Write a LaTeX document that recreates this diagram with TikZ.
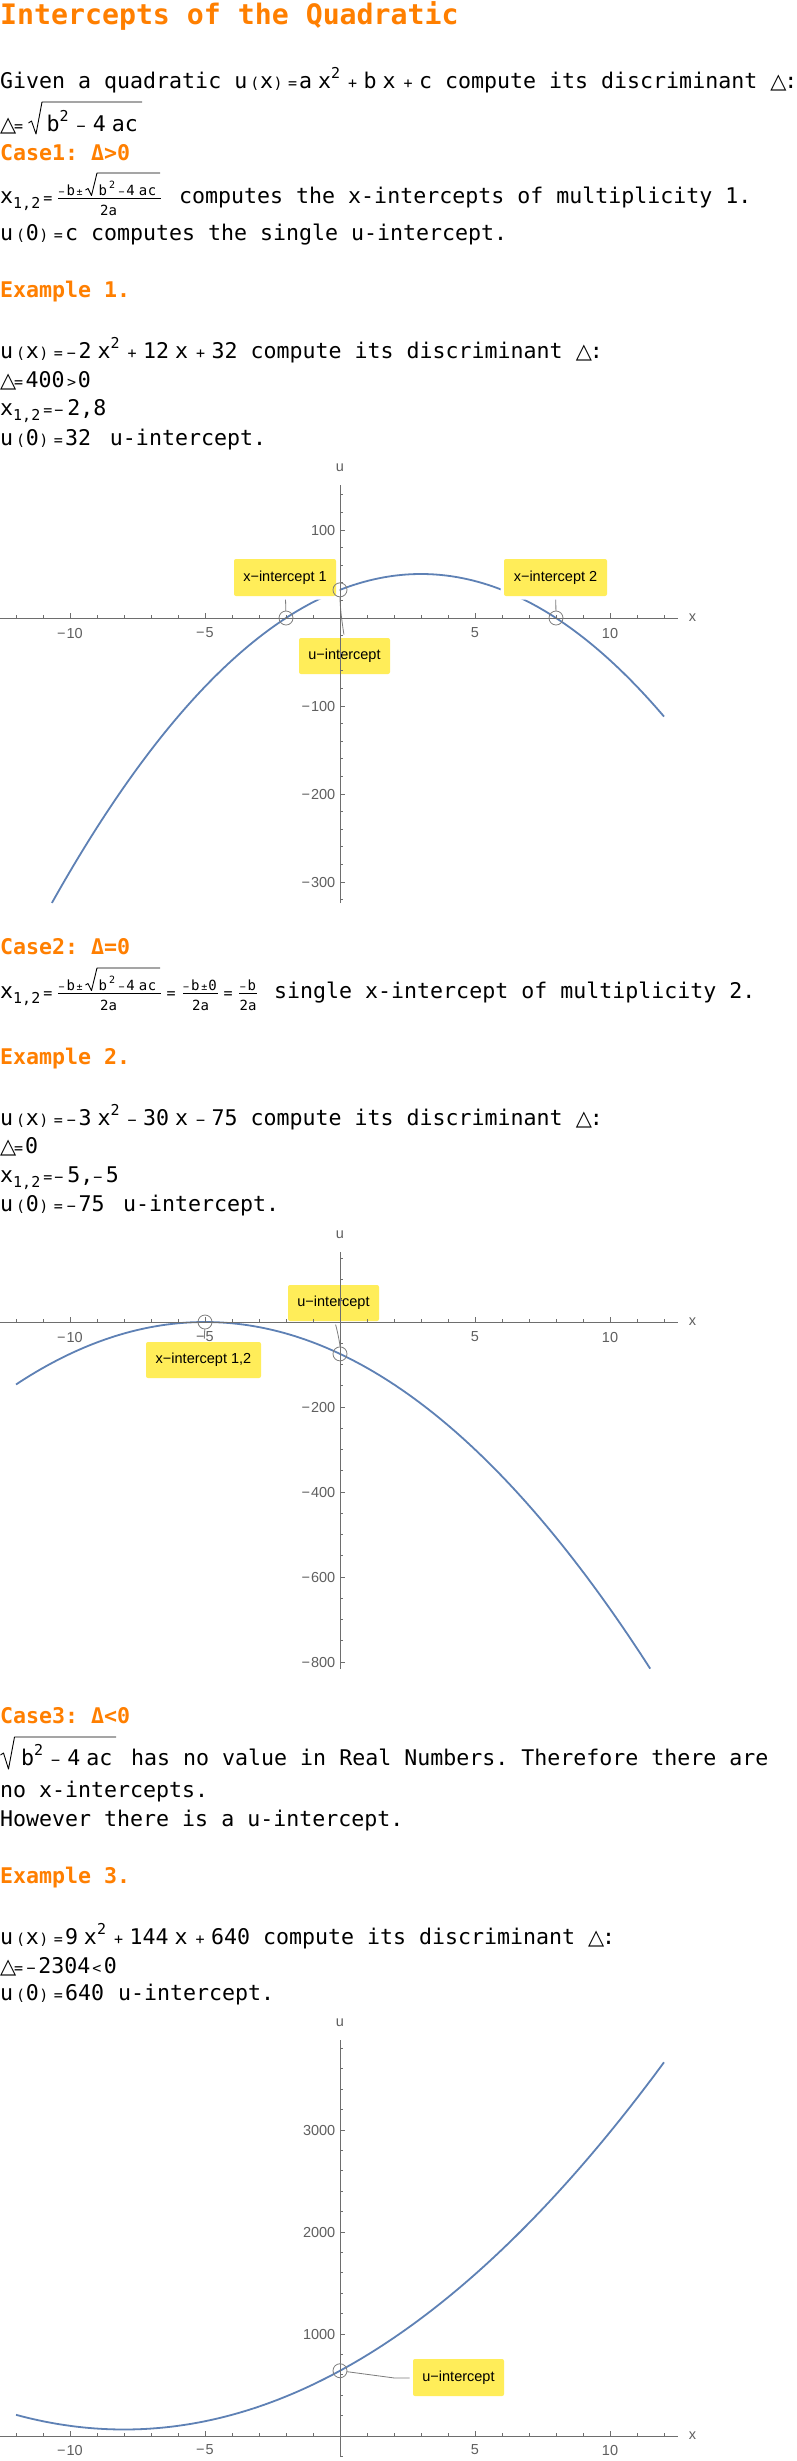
\documentclass[tikz,border=0pt]{standalone}
\usepackage{fontspec}
\setmainfont{DejaVu Sans Mono}
\newfontfamily\dvs{DejaVu Sans}
\newfontfamily\lib{Liberation Sans}
\definecolor{orng}{RGB}{255,127,0}
\definecolor{mblue}{RGB}{94,129,181}
\definecolor{labyel}{RGB}{255,237,89}
\definecolor{axgray}{RGB}{110,110,110}
\definecolor{tkgray}{RGB}{95,95,95}
\definecolor{cgray}{RGB}{125,125,125}
\pgfdeclarelayer{bg}
\pgfsetlayers{bg,main}
\frenchspacing
\newcommand\qbody{\fontsize{21.6}{26}\selectfont}
\newcommand\qsop[1]{{\fontsize{15}{15}\selectfont #1}}
\newcommand\qnop[1]{{\fontsize{10}{10}\selectfont #1}}
\newcommand\qnf{\fontsize{14}{14}\selectfont}
\newcommand\qtri{{\dvs\fontsize{21}{21}\selectfont △}}
\newcommand\qLP{\kern3pt\qsop{(}\kern0.7pt}
\newcommand\qRP{\kern0.5pt\qsop{)}}
\newcommand\qEQ{\kern5.5pt\qsop{=}\kern2pt}
\newcommand\qPL{\kern8pt\qsop{+}\kern6.5pt}
\newcommand\qMI{\kern8pt\qsop{−}\kern6.5pt}
\newcommand\qNG{\kern2pt\qsop{−}\kern2.5pt}
\newcommand\qMS{\kern6pt}
\newcommand\qSQ{\raisebox{10pt}{\qsop{2}}}
\newcommand\qRAD{b\qSQ\kern8pt\qsop{−}\kern7pt 4\qMS ac}
\newcommand\qXS{x\raisebox{-5pt}{\qsop{1,2}}\kern3pt\qsop{=}}
\newcommand\qDEQ{\hbox to 14pt{\qtri\hss}\qsop{=}}
\newcommand\qTC{\hbox to 14pt{\qtri\hss}:}
\newcommand\qNUM{\qnf b\kern2pt\raisebox{7pt}{\qnop{2}}\kern3.5pt\qnop{−}\kern1.8pt 4\kern4pt a\kern0.6pt c}
\tikzset{
  txt/.style={anchor=base west, inner sep=0pt, font=\qbody},
  hd/.style={anchor=base west, inner sep=0pt, font=\qbody\bfseries, text=orng},
  radl/.style={line width=0.9pt, line join=round},
  fbar/.style={line width=0.9pt},
  crv/.style={mblue, line width=1.8pt},
  axisl/.style={axgray, line width=0.8pt},
  tk/.style={axgray, line width=0.7pt},
  tlab/.style={font=\lib\fontsize{14.5}{14.5}\selectfont, text=tkgray, inner sep=0pt},
  lbl/.style={fill=labyel, rounded corners=2pt, font=\lib\fontsize{14.5}{14.5}\selectfont, inner sep=0pt, preaction={draw=white, line width=7pt}},
  conn/.style={cgray, line width=0.8pt},
  mkr/.style={circle, minimum size=14pt, inner sep=0pt},
  ring/.style={cgray, line width=0.8pt}
}
\begin{document}
\begin{tikzpicture}[x=1pt,y=-1pt]
\begin{pgfonlayer}{bg}
\fill[white] (0,0) rectangle (796,2461);
\end{pgfonlayer}
\useasboundingbox (0,0) rectangle (796,2461);

% ---------------- text block 1 ----------------
\node[hd, font=\fontsize{28.2}{34}\selectfont\bfseries] (t1) at (0,24) {Intercepts of the Quadratic};
\node[txt] (t2) at (0,88) {Given a quadratic u\qLP x\qRP\qEQ a\qMS x\qSQ\qPL b\qMS x\qPL c compute its discriminant \qTC};
\node[txt] (t3a) at (0,131) {\qDEQ};
\draw[radl] (28.5,123) -- (31.5,121) -- (36,134) -- (42,102) -- (142,102);
\node[txt] (t3b) at (46.5,131) {\qRAD};
\node[hd] (t4) at (0,160) {Case1: Δ>0};
\node[txt] (t5a) at (0,203) {\qXS};
\draw[fbar] (58,198.3) -- (161,198.3);
\node[txt] (t5n1) at (58.5,195) {\qnf\qnop{−}\kern1.8pt b\kern1.8pt\qnop{±}};
\draw[radl] (85.5,190) -- (88,188.5) -- (91.5,195.5) -- (97,173) -- (160,173);
\node[txt] (t5n2) at (98.5,195) {\qNUM};
\node[txt, anchor=base] (t5d) at (108.5,215) {\qnf 2a};
\node[txt] (t5b) at (179,203) {computes the x-intercepts of multiplicity 1.};
\node[txt] (t6) at (0,240) {u\qLP 0\qRP\qEQ c computes the single u-intercept.};
\node[hd] (t7) at (0,297) {Example 1.};
\node[txt] (t8) at (0,358) {u\qLP x\qRP\qEQ\qNG 2\qMS x\qSQ\qPL 12\qMS x\qPL 32 compute its discriminant \qTC};
\node[txt] (t9) at (0,387) {\qDEQ\kern2.5pt 400\kern2.5pt\qsop{>}\kern1.5pt 0};
\node[txt] (t10) at (0,415) {\qXS\kern2pt\qsop{−}\kern4pt 2,8};
\node[txt] (t11) at (0,445) {u\qLP 0\qRP\qEQ 32 \kern6pt u-intercept.};

% ---------------- graph 1 ----------------
\begin{scope}[shift={(340,618)}, x=27pt, y=0.88pt]
  \node[mkr] (g1a) at (-2,0) {};
  \node[mkr] (g1b) at (8,0) {};
  \node[mkr] (g1c) at (0,32) {};
\end{scope}
\node[lbl, minimum width=102pt, minimum height=37pt] (g1la) at (285,577.5) {x−intercept 1};
\node[lbl, minimum width=103pt, minimum height=37pt] (g1lb) at (555.5,577.5) {x−intercept 2};
\node[lbl, minimum width=91pt, minimum height=36pt] (g1lc) at (344.5,656) {u−intercept};
\begin{pgfonlayer}{bg}
  \begin{scope}[shift={(340,618)}, x=27pt, y=0.88pt]
    \draw[crv] plot[domain=-10.67:12, samples=150] (\x,{-2*(\x)*(\x)+12*(\x)+32});
  \end{scope}
  \draw[conn] (g1a) -- (g1la);
  \draw[conn] (g1b) -- (g1lb);
  \draw[conn] (g1c) .. controls +(0pt,-22pt) and +(0pt,18pt) .. (g1lc);
\end{pgfonlayer}
\begin{scope}[shift={(340,618)}, x=27pt, y=0.88pt]
  \draw[axisl] (-12.6,0) -- (12.5,0);
  \draw[axisl] (0,-324) -- (0,151);
  \foreach \i in {-12,...,12} \draw[tk] (\i,0) -- ++(0pt,3pt);
  \foreach \i/\t in {-10/−\kern1pt 10,-5/−\kern1pt 5,5/5,10/10} {
    \draw[tk] (\i,0) -- ++(0pt,5pt);
    \path (\i,0) ++(0pt,-15pt) node[tlab] (g1xt\i) {\t};
  }
  \foreach \v in {-320,-300,...,140} \draw[tk] (0,\v) -- ++(3pt,0pt);
  \foreach \v/\t in {-300/−\kern1pt 300,-200/−\kern1pt 200,-100/−\kern1pt 100,100/100} {
    \draw[tk] (0,\v) -- ++(5pt,0pt);
    \path (0,\v) ++(-4.5pt,0pt) node[tlab, anchor=east] (g1yt\v) {\t};
  }
  \node[tlab, yshift=17pt] (g1u) at (0,151) {u};
  \node[tlab, xshift=15pt] (g1x) at (12.5,0) {x};
\end{scope}
\draw[ring] (g1a.center) circle[radius=7pt];
\draw[ring] (g1b.center) circle[radius=7pt];
\draw[ring] (g1c.center) circle[radius=7pt];

% ---------------- text block 2 ----------------
\node[hd] (t12) at (0,954) {Case2: Δ=0};
\node[txt] (t13a) at (0,998) {\qXS};
\draw[fbar] (58,993.3) -- (161,993.3);
\draw[fbar] (183,993.3) -- (218,993.3);
\draw[fbar] (239,993.3) -- (257,993.3);
\node[txt] (t13n1) at (58.5,990) {\qnf\qnop{−}\kern1.8pt b\kern1.8pt\qnop{±}};
\draw[radl] (85.5,985) -- (88,983.5) -- (91.5,990.5) -- (97,968) -- (160,968);
\node[txt] (t13n2) at (98.5,990) {\qNUM};
\node[txt, anchor=base] (t13d1) at (108.5,1010) {\qnf 2a};
\node[txt] (t13e1) at (166.5,998) {\qsop{=}};
\node[txt] (t13n3) at (183,990) {\qnf\qnop{−}\kern1.8pt b\kern1.8pt\qnop{±}\kern1pt 0};
\node[txt, anchor=base] (t13d2) at (200.5,1010) {\qnf 2a};
\node[txt] (t13e2) at (223.5,998) {\qsop{=}};
\node[txt, anchor=base] (t13n4) at (248,990) {\qnf\qnop{−}\kern1.8pt b};
\node[txt, anchor=base] (t13d3) at (248,1010) {\qnf 2a};
\node[txt] (t13b) at (274,998) {single x-intercept of multiplicity 2.};
\node[hd] (t14) at (0,1064) {Example 2.};
\node[txt] (t15) at (0,1125) {u\qLP x\qRP\qEQ\qNG 3\qMS x\qSQ\qMI 30\qMS x\qMI 75 compute its discriminant \qTC};
\node[txt] (t16) at (0,1153) {\qDEQ\kern2pt 0};
\node[txt] (t17) at (0,1182) {\qXS\kern2pt\qsop{−}\kern4pt 5,\qsop{−}\kern3.5pt 5};
\node[txt] (t18) at (0,1211) {u\qLP 0\qRP\qEQ\qNG 75 \kern5.5pt u-intercept.};

% ---------------- graph 2 ----------------
\begin{scope}[shift={(340,1322)}, x=27pt, y=0.425pt]
  \node[mkr] (g2a) at (-5,0) {};
  \node[mkr] (g2b) at (0,-75) {};
\end{scope}
\node[lbl, minimum width=115pt, minimum height=36pt] (g2la) at (203.5,1360) {x−intercept 1,2};
\node[lbl, minimum width=91pt, minimum height=36pt] (g2lb) at (333.5,1303) {u−intercept};
\begin{pgfonlayer}{bg}
  \begin{scope}[shift={(340,1322)}, x=27pt, y=0.425pt]
    \draw[crv] plot[domain=-12:11.49, samples=150] (\x,{-3*(\x+5)*(\x+5)});
  \end{scope}
  \draw[conn] (g2a) -- (g2la);
  \draw[conn] (g2b) .. controls +(0pt,12pt) and +(0pt,-10pt) .. (g2lb);
\end{pgfonlayer}
\begin{scope}[shift={(340,1322)}, x=27pt, y=0.425pt]
  \draw[axisl] (-12.6,0) -- (12.5,0);
  \draw[axisl] (0,-816) -- (0,165);
  \foreach \i in {-12,...,12} \draw[tk] (\i,0) -- ++(0pt,3pt);
  \foreach \i/\t in {-10/−\kern1pt 10,-5/−\kern1pt 5,5/5,10/10} {
    \draw[tk] (\i,0) -- ++(0pt,5pt);
    \path (\i,0) ++(0pt,-15pt) node[tlab] (g2xt\i) {\t};
  }
  \foreach \v in {-800,-750,...,150} \draw[tk] (0,\v) -- ++(3pt,0pt);
  \foreach \v/\t in {-800/−\kern1pt 800,-600/−\kern1pt 600,-400/−\kern1pt 400,-200/−\kern1pt 200} {
    \draw[tk] (0,\v) -- ++(5pt,0pt);
    \path (0,\v) ++(-4.5pt,0pt) node[tlab, anchor=east] (g2yt\v) {\t};
  }
  \node[tlab, yshift=17pt] (g2u) at (0,165) {u};
  \node[tlab, xshift=15pt] (g2x) at (12.5,0) {x};
\end{scope}
\draw[ring] (g2a.center) circle[radius=7pt];
\draw[ring] (g2b.center) circle[radius=7pt];

% ---------------- text block 3 ----------------
\node[hd] (t19) at (0,1723) {Case3: Δ<0};
\draw[radl] (0.5,1755) -- (3.5,1753) -- (8.5,1769) -- (14.5,1737) -- (116,1737);
\node[txt] (t20a) at (21,1765) {\qRAD};
\node[txt] (t20b) at (131,1765) {has no value in Real Numbers. Therefore there are};
\node[txt] (t21) at (0,1797) {no x-intercepts.};
\node[txt] (t22) at (0,1826) {However there is a u-intercept.};
\node[hd] (t23) at (0,1883) {Example 3.};
\node[txt] (t24) at (0,1944) {u\qLP x\qRP\qEQ 9\qMS x\qSQ\qPL 144\qMS x\qPL 640 compute its discriminant \qTC};
\node[txt] (t25) at (0,1973) {\qDEQ\kern3.5pt\qsop{−}\kern2.5pt 2304\kern2pt\qsop{<}\kern2.5pt 0};
\node[txt] (t26) at (0,2000) {u\qLP 0\qRP\qEQ 640 \kern1pt u-intercept.};

% ---------------- graph 3 ----------------
\begin{scope}[shift={(340,2436)}, x=27pt, y=0.102pt]
  \node[mkr] (g3a) at (0,640) {};
\end{scope}
\node[lbl, minimum width=91pt, minimum height=37pt] (g3la) at (458.5,2377.5) {u−intercept};
\coordinate (g3bend) at (394.6,2378);
\begin{pgfonlayer}{bg}
  \begin{scope}[shift={(340,2436)}, x=27pt, y=0.102pt]
    \draw[crv] plot[domain=-12:12, samples=150] (\x,{9*(\x)*(\x)+144*(\x)+640});
  \end{scope}
  \draw[conn] (g3a) -- (g3bend) -- (g3la);
\end{pgfonlayer}
\begin{scope}[shift={(340,2436)}, x=27pt, y=0.102pt]
  \draw[axisl] (-12.6,0) -- (12.5,0);
  \draw[axisl] (0,-206) -- (0,3882);
  \foreach \i in {-12,...,12} \draw[tk] (\i,0) -- ++(0pt,3pt);
  \foreach \i/\t in {-10/−\kern1pt 10,-5/−\kern1pt 5,5/5,10/10} {
    \draw[tk] (\i,0) -- ++(0pt,5pt);
    \path (\i,0) ++(0pt,-14pt) node[tlab] (g3xt\i) {\t};
  }
  \foreach \v in {-200,0,...,3800} \draw[tk] (0,\v) -- ++(3pt,0pt);
  \foreach \v in {1000,2000,3000} {
    \draw[tk] (0,\v) -- ++(5pt,0pt);
    \path (0,\v) ++(-4.5pt,0pt) node[tlab, anchor=east] (g3yt\v) {\v};
  }
  \node[tlab, yshift=17pt] (g3u) at (0,3882) {u};
  \node[tlab, xshift=15pt] (g3x) at (12.5,0) {x};
\end{scope}
\draw[ring] (g3a.center) circle[radius=7pt];
\end{tikzpicture}
\end{document}
